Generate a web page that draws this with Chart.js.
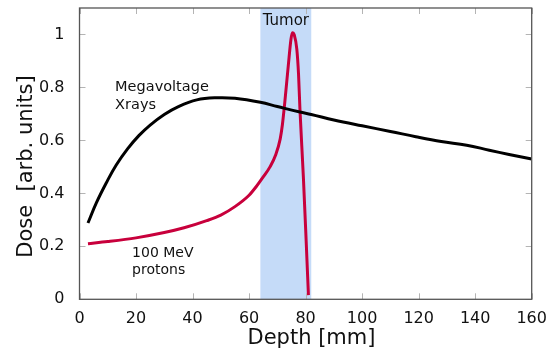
<!DOCTYPE html>
<html>
<head>
<meta charset="utf-8">
<script src="https://cdn.jsdelivr.net/npm/chart.js@4"></script>
<style>
	body { margin: 0; background: #fff; }
	#wrap { width: 551px; height: 352px; position: relative; }
</style>
</head>
<body>
<div id="wrap"><canvas id="doseChart"></canvas></div>
<script>
// --- Depth-dose data ---
const xrayDepth = [3, 6, 9.5, 13, 17, 21, 25, 30, 35, 41.5, 48.5, 55, 64, 70, 78, 82, 90, 100, 110, 119, 128, 137, 145, 152, 160];
const xrayDose = [0.288, 0.365, 0.44, 0.507, 0.568, 0.618, 0.658, 0.698, 0.728, 0.753, 0.761, 0.759, 0.744, 0.728, 0.707, 0.698, 0.677, 0.655, 0.634, 0.614, 0.596, 0.582, 0.563, 0.547, 0.53];

const protonDepth = [3, 10, 20, 30, 37, 45, 50, 55, 60, 62.5, 65, 67.4, 69.5, 71, 71.8, 72.6, 73.9, 74.8, 75.3, 76, 76.9, 77.5, 78, 79.2, 80.2, 81];
const protonDose = [0.21, 0.218, 0.232, 0.252, 0.27, 0.297, 0.318, 0.35, 0.393, 0.425, 0.462, 0.5, 0.548, 0.605, 0.66, 0.74, 0.885, 0.98, 1.007, 0.998, 0.944, 0.85, 0.717, 0.464, 0.22, 0.016];

const tumorRange = [64, 82];

const xTicks = [0, 20, 40, 60, 80, 100, 120, 140, 160];
const yTicks = [0, 0.2, 0.4, 0.6, 0.8, 1];

const FONT = "'DejaVu Sans', Verdana, sans-serif";

function toPoints(xs, ys) {
	return xs.map((x, i) => ({ x: x, y: ys[i] }));
}

// Shaded tumor region, behind the curves
const tumorBand = {
	id: "tumorBand",
	beforeDatasetsDraw(chart) {
		const { ctx, chartArea, scales } = chart;
		const x0 = scales.x.getPixelForValue(tumorRange[0]);
		const x1 = scales.x.getPixelForValue(tumorRange[1]);
		ctx.save();
		ctx.fillStyle = "#c5dbf8";
		ctx.fillRect(x0, chartArea.top, x1 - x0, chartArea.bottom - chartArea.top);
		ctx.restore();
	},
};

// Frame with inward ticks on all four sides, plus the text labels
const frameAndLabels = {
	id: "frameAndLabels",
	afterDatasetsDraw(chart) {
		const { ctx, chartArea, scales } = chart;
		const { left, right, top, bottom } = chartArea;
		const tl = 6;
		ctx.save();
		ctx.strokeStyle = "#b4b4b4";
		ctx.lineWidth = 1;
		ctx.beginPath();
		xTicks.forEach((v) => {
			const px = Math.round(scales.x.getPixelForValue(v)) + 0.5;
			ctx.moveTo(px, bottom);
			ctx.lineTo(px, bottom - tl);
			ctx.moveTo(px, top);
			ctx.lineTo(px, top + tl);
		});
		yTicks.forEach((v) => {
			const py = Math.round(scales.y.getPixelForValue(v)) + 0.5;
			ctx.moveTo(left, py);
			ctx.lineTo(left + tl, py);
			ctx.moveTo(right, py);
			ctx.lineTo(right - tl, py);
		});
		ctx.stroke();

		ctx.strokeStyle = "#555";
		ctx.lineWidth = 1.3;
		ctx.strokeRect(left, top, right - left, bottom - top);

		// curve labels, placed in data units
		const text = (str, x, y, size, align) => {
			ctx.font = size + "px " + FONT;
			ctx.textAlign = align;
			ctx.textBaseline = "alphabetic";
			ctx.fillText(str, scales.x.getPixelForValue(x), scales.y.getPixelForValue(y));
		};
		ctx.fillStyle = "#111";
		text("Megavoltage", 12.6, 0.788, 14.5, "left");
		text("Xrays", 12.6, 0.72, 14.5, "left");
		text("100 MeV", 18.6, 0.161, 14, "left");
		text("protons", 18.6, 0.095, 14, "left");
		text("Tumor", 73, 1.036, 15, "center");

		// axis titles
		ctx.font = "21px " + FONT;
		ctx.textAlign = "center";
		ctx.textBaseline = "alphabetic";
		ctx.fillText("Depth [mm]", 311.5, 344);
		ctx.translate(32, 166.5);
		ctx.rotate(-Math.PI / 2);
		ctx.fillText("Dose  [arb. units]", 0, 0);
		ctx.restore();
	},
};

const doseChart = new Chart(document.getElementById("doseChart"), {
	type: "line",
	data: {
		datasets: [
			{
				label: "Megavoltage Xrays",
				data: toPoints(xrayDepth, xrayDose),
				borderColor: "#000",
				borderWidth: 3,
				pointRadius: 0,
				tension: 0.4,
				fill: false,
			},
			{
				label: "100 MeV protons",
				data: toPoints(protonDepth, protonDose),
				borderColor: "#c8003c",
				borderWidth: 3,
				pointRadius: 0,
				cubicInterpolationMode: "monotone",
				fill: false,
			},
		],
	},
	options: {
		responsive: true,
		maintainAspectRatio: false,
		animation: false,
		layout: { padding: { left: 0, top: 8, right: 19.3, bottom: 0 } },
		plugins: {
			legend: { display: false },
			tooltip: { enabled: false },
		},
		scales: {
			x: {
				type: "linear",
				min: 0,
				max: 160,
				afterBuildTicks: (scale) => {
					scale.ticks = xTicks.map((v) => ({ value: v }));
				},
				afterFit: (scale) => {
					scale.height = 52.7;
					scale.paddingLeft = 0;
					scale.paddingRight = 0;
				},
				grid: { display: false },
				border: { display: false },
				ticks: {
					color: "#111",
					padding: 2,
					maxRotation: 0,
					font: { family: FONT, size: 16 },
					callback: (v) => String(v),
				},
			},
			y: {
				min: 0,
				max: 1.1,
				afterBuildTicks: (scale) => {
					scale.ticks = yTicks.map((v) => ({ value: v }));
				},
				afterFit: (scale) => {
					scale.width = 79.5;
					scale.paddingTop = 0;
					scale.paddingBottom = 0;
				},
				grid: { display: false },
				border: { display: false },
				ticks: {
					color: "#111",
					padding: 7,
					font: { family: FONT, size: 16 },
					callback: (v) => String(v),
				},
			},
		},
	},
	plugins: [tumorBand, frameAndLabels],
});
</script>
</body>
</html>
